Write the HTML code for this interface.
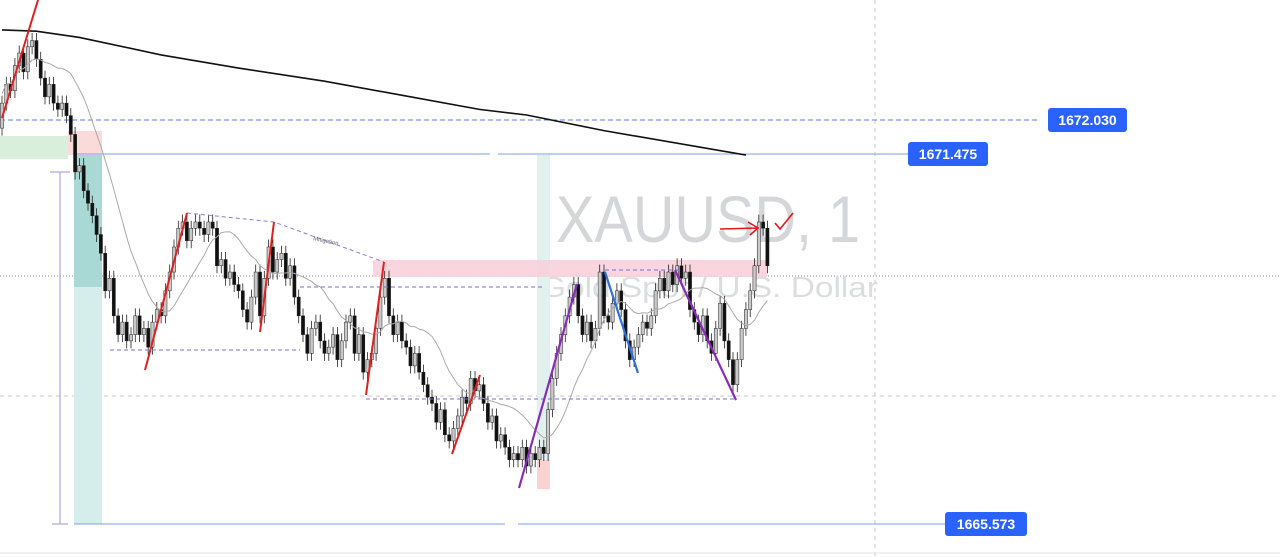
<!DOCTYPE html>
<html><head><meta charset="utf-8">
<style>
html,body{margin:0;padding:0;background:#fff;}
svg{display:block;font-family:"Liberation Sans",sans-serif;}
</style></head>
<body>
<svg id="chart" width="1280" height="557" viewBox="0 0 1280 557" xmlns="http://www.w3.org/2000/svg">
<g id="bg">
  <line x1="875" y1="0" x2="875" y2="557" stroke="#c8c8cc" stroke-dasharray="4,4"/>
  <line x1="0" y1="396" x2="1280" y2="396" stroke="#c8c8cc" stroke-dasharray="4,4"/>
  <line x1="0" y1="276" x2="1280" y2="276" stroke="#888" stroke-dasharray="1,2"/>
  <line x1="0" y1="553" x2="1280" y2="553" stroke="#e6e6e6"/>
  <text x="556" y="242" font-size="66" fill="#d5d6da" textLength="304" lengthAdjust="spacingAndGlyphs">XAUUSD, 1</text>
  <text x="540" y="297" font-size="29" fill="#dcdde0" textLength="338" lengthAdjust="spacingAndGlyphs">Gold Spot / U.S. Dollar</text>
  <rect x="0" y="136" width="68" height="23" fill="#d9eedb"/>
  <rect x="68" y="131" width="34" height="24" fill="#f9d7d5" opacity="0.9"/>
  <rect x="74" y="155" width="28" height="132" fill="#a8d9d4"/>
  <rect x="74" y="287" width="28" height="237" fill="#d6eeeb"/>
  <rect x="537" y="155" width="13" height="305" fill="#e0f1ef"/>
  <rect x="537" y="460" width="13" height="29" fill="#f9d3d2"/>
  <rect x="373" y="260" width="394" height="17" fill="#f8d0db" opacity="0.9"/>
  <line x1="0" y1="120" x2="1040" y2="120" stroke="#5b7fe0" stroke-dasharray="5,3"/>
  <line x1="74" y1="154" x2="490" y2="154" stroke="#7f9cf0"/>
  <line x1="498" y1="154" x2="908" y2="154" stroke="#7f9cf0"/>
  <line x1="74" y1="524" x2="505" y2="524" stroke="#7f9cf0"/>
  <line x1="518" y1="524" x2="945" y2="524" stroke="#7f9cf0"/>
  <g stroke="#a58fd8" fill="none">
    <line x1="60" y1="172" x2="60" y2="524"/><line x1="50" y1="172" x2="70" y2="172"/><line x1="52" y1="524" x2="68" y2="524"/>
  </g>
</g>
<g id="candles"></g>
<g id="overlay">
  <g stroke="#7b6fd0" stroke-dasharray="4,3" fill="none" stroke-width="1">
    <polyline points="187,213 274,222 384,262" stroke="#8a7fd0"/>
    <line x1="110" y1="350" x2="300" y2="350"/>
    <line x1="366" y1="399" x2="736" y2="399"/>
    <line x1="300" y1="287" x2="545" y2="287"/>
    <line x1="605" y1="270" x2="680" y2="270"/>
  </g>
  <text x="313" y="240" font-size="6" fill="#666" transform="rotate(12 313 240)">Mitigation</text>
  <g stroke="#e02020" stroke-width="2">
    <line x1="2" y1="118" x2="38" y2="0"/><line x1="145" y1="370" x2="187" y2="213"/><line x1="260" y1="332" x2="274" y2="222"/>
    <line x1="366" y1="395" x2="384" y2="262"/><line x1="452" y1="454" x2="480" y2="375"/>
  </g>
  <g stroke="#8a2bb8" stroke-width="2.2">
    <line x1="519" y1="488" x2="577" y2="284"/><line x1="675" y1="270" x2="736" y2="400"/>
  </g>
  <line x1="605" y1="272" x2="638" y2="373" stroke="#2f6fe0" stroke-width="2.2"/>
  <g stroke="#e8141a" stroke-width="1.6" fill="none">
    <path d="M720 229 L758 228 M748 222 L758 228 L750 235"/>
    <path d="M775 223 L780 229 L793 213"/>
  </g>
</g>
<g id="labels">
  <rect x="1048" y="108" width="79" height="24" rx="3" fill="#2962ff"/>
  <text x="1087.5" y="125" font-size="14" font-weight="bold" fill="#fff" text-anchor="middle">1672.030</text>
  <rect x="908" y="142" width="80" height="24" rx="3" fill="#2962ff"/>
  <text x="948" y="159" font-size="14" font-weight="bold" fill="#fff" text-anchor="middle">1671.475</text>
  <rect x="945" y="512" width="82" height="24" rx="3" fill="#2962ff"/>
  <text x="986" y="529" font-size="14" font-weight="bold" fill="#fff" text-anchor="middle">1665.573</text>
</g>
</svg>
<script>
const closes = [1672.3,1672.6,1672.5,1672.9,1673.1,1672.8,1673.2,1673.3,1673.0,1672.7,
1672.4,1672.6,1672.3,1672.2,1672.3,1672.1,1671.8,1671.2,1671.3,1670.9,
1670.7,1670.5,1670.2,1669.9,1669.3,1669.5,1668.9,1668.6,1668.8,1668.5,
1668.6,1668.9,1668.6,1668.7,1668.4,1668.8,1669.0,1668.9,1669.3,1669.6,
1670.0,1670.3,1670.4,1670.1,1670.3,1670.4,1670.3,1670.2,1670.4,1670.3,
1669.7,1669.8,1669.5,1669.6,1669.4,1669.3,1669.0,1668.8,1669.2,1669.6,
1668.9,1669.5,1670.0,1669.6,1669.8,1669.9,1669.5,1669.7,1669.2,1668.9,
1668.6,1668.3,1668.7,1668.8,1668.5,1668.3,1668.4,1668.6,1668.2,1668.5,
1668.8,1668.9,1668.3,1668.6,1668.0,1668.2,1668.3,1668.7,1669.2,1669.5,
1668.9,1668.6,1668.8,1668.5,1668.4,1668.1,1668.3,1668.0,1667.8,1667.6,
1667.5,1667.2,1667.4,1667.0,1666.9,1667.1,1667.3,1667.6,1667.5,1667.9,
1667.7,1667.8,1667.5,1667.2,1667.3,1666.9,1667.0,1666.8,1666.6,1666.7,
1666.6,1666.8,1666.5,1666.7,1666.6,1666.8,1666.7,1667.4,1667.9,1668.3,
1668.6,1668.9,1669.2,1669.4,1668.9,1668.6,1668.8,1668.5,1668.7,1669.6,
1668.9,1668.8,1669.1,1669.3,1669.0,1668.5,1668.2,1668.4,1668.6,1668.8,
1668.7,1668.9,1669.3,1669.5,1669.3,1669.6,1669.4,1669.7,1669.5,1669.6,
1669.0,1668.8,1668.6,1668.9,1668.5,1668.3,1668.7,1669.1,1668.5,1668.2,
1667.8,1668.2,1668.7,1669.0,1669.3,1669.7,1670.4,1670.3,1669.7];
const firstOpen = 1671.9;
const longMaIdx = [0,8,18,37,55,75,95,111,122,140,173];
const longMaVals = [1673.47,1673.45,1673.35,1673.07,1672.86,1672.65,1672.40,1672.20,1672.11,1671.86,1671.47];
const smaPeriod = 14;

const NS="http://www.w3.org/2000/svg";
const yOf = p => 120 + (1672.03 - p) * 62.57;
const xOf = i => 2 + i * 4.3;
const g = document.getElementById('candles');
for (let i=0;i<closes.length;i++){
  const o = i===0?firstOpen:closes[i-1], c = closes[i];
  const hi = Math.max(o,c)+0.12, lo = Math.min(o,c)-0.12;
  const x = xOf(i);
  const w = document.createElementNS(NS,'line');
  w.setAttribute('x1',x);w.setAttribute('x2',x);w.setAttribute('y1',yOf(hi));w.setAttribute('y2',yOf(lo));
  w.setAttribute('stroke','#222');w.setAttribute('stroke-width','0.8');
  
  
  g.appendChild(w);
  const r = document.createElementNS(NS,'rect');
  const t = yOf(Math.max(o,c)), b = yOf(Math.min(o,c));
  r.setAttribute('x',x-1.6);r.setAttribute('width',3.2);r.setAttribute('y',t);r.setAttribute('height',Math.max(1,b-t));
  r.setAttribute('fill', c>=o ? '#c9c9c9' : '#111');
  r.setAttribute('stroke', '#222'); r.setAttribute('stroke-width','0.5');
  
  
  g.appendChild(r);
}
let pts=[];
for (let i=0;i<closes.length;i++){
  const s = closes.slice(Math.max(0,i-smaPeriod+1),i+1);
  const m = s.reduce((a,b)=>a+b,0)/s.length;
  pts.push(xOf(i)+','+yOf(m+0.15));
}
const sma = document.createElementNS(NS,'polyline');
sma.setAttribute('points',pts.join(' '));sma.setAttribute('fill','none');sma.setAttribute('stroke','#aaa');sma.setAttribute('stroke-width','1');


g.appendChild(sma);
const lma = document.createElementNS(NS,'polyline');
lma.setAttribute('points',longMaIdx.map((ix,k)=>xOf(ix)+','+yOf(longMaVals[k])).join(' '));
lma.setAttribute('fill','none');lma.setAttribute('stroke','#111');lma.setAttribute('stroke-width','1.6');


g.appendChild(lma);
</script>
</body></html>
